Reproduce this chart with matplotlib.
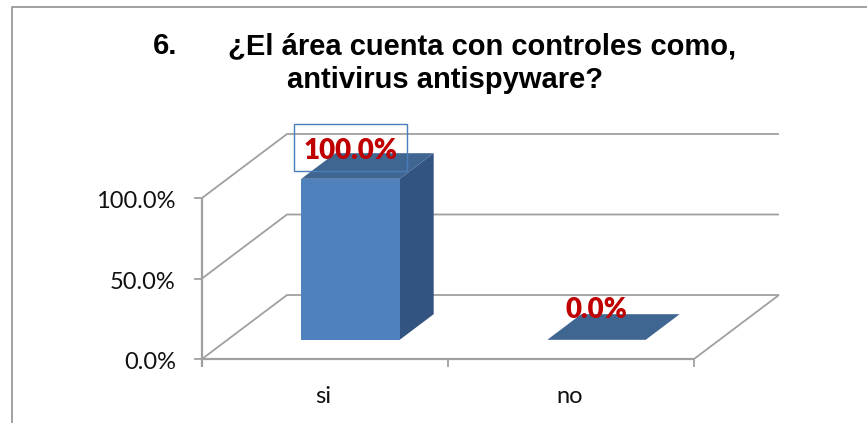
import matplotlib
matplotlib.use("Agg")
import matplotlib.pyplot as plt
from matplotlib.patches import Polygon, Rectangle
from matplotlib.lines import Line2D

categories = ["si", "no"]
values = [1.0, 0.0]
value_labels = ["100.0%", "0.0%"]
y_ticks = [0.0, 0.5, 1.0]
y_tick_labels = ["0.0%", "50.0%", "100.0%"]
title_number = "6."
title_line1 = "¿El área cuenta con controles como,"
title_line2 = "antivirus antispyware?"

W, H = 867, 423
fig = plt.figure(figsize=(W / 100, H / 100), dpi=100, facecolor="white")
# front plane of the 3D box: x 202..694 px, y 359..198 px
ax = fig.add_axes([202 / W, 1 - 359 / H, (694 - 202) / W, (359 - 198) / H])
ax.set_xlim(0, 2)
ax.set_ylim(0, 1)
ax.axis("off")

DX = 85 / 246   # full depth in category units
DY = 64 / 161   # full depth in value units
D0, D1 = 0.30, 0.70  # bar depth range
BW = 0.40       # bar width in category units
GRAY = "#A0A0A0"
FRONT, SIDE, TOP = "#4F81BD", "#335480", "#3F6591"


def P(x, y, d=0.0):
    return (x + d * DX, y + d * DY)


def line(pts, lw=1.3, z=1):
    ax.plot(*zip(*pts), color=GRAY, lw=lw, clip_on=False, zorder=z, solid_capstyle="butt")


for t in y_ticks:
    line([P(0, t), P(0, t, 1), P(2, t, 1)])
    ax.plot([0, -0.03], [t, t], color=GRAY, lw=1.3, clip_on=False, zorder=1)
line([P(2, 0), P(2, 0, 1)])
line([P(0, 0), P(2, 0)], lw=1.6)
line([P(0, 1), P(0, -0.05)], lw=1.6)
for x in [0, 1, 2]:
    line([P(x, 0), P(x, -0.05)], lw=1.3)

for i, (v, lab) in enumerate(zip(values, value_labels)):
    xl, xr = i + 0.5 - BW / 2, i + 0.5 + BW / 2
    if v > 0:
        ax.add_patch(Polygon([P(xr, 0, D0), P(xr, 0, D1), P(xr, v, D1), P(xr, v, D0)],
                             fc=SIDE, ec="none", clip_on=False, zorder=3))
        ax.add_patch(Polygon([P(xl, 0, D0), P(xr, 0, D0), P(xr, v, D0), P(xl, v, D0)],
                             fc=FRONT, ec="none", clip_on=False, zorder=4))
    ax.add_patch(Polygon([P(xl, v, D0), P(xr, v, D0), P(xr, v, D1), P(xl, v, D1)],
                         fc=TOP, ec="none", clip_on=False, zorder=4))
    ax.text(i + 0.5 + D0 * DX, v + 0.29 if v > 0 else 0.305, lab, color="#C00000", fontsize=20,
            fontweight="heavy", family="Lato", ha="center", va="center", zorder=6, clip_on=False)
    ax.text(i + 0.5 - 0.006, -0.236, categories[i], fontsize=17, family="Lato",
            ha="center", va="center", color="#111111")

for t, lab in zip(y_ticks, y_tick_labels):
    ax.text(-0.106, t - 0.022, lab, fontsize=17, family="Lato", ha="right", va="center",
            color="#111111", clip_on=False)

# selection box around the first data label and chart frame
fig.add_artist(Rectangle((294 / W, 1 - 171 / H), 113 / W, 47 / H, transform=fig.transFigure,
                         fc="none", ec="#4A7EBB", lw=1.0, zorder=7))
fig.add_artist(Line2D([11.5 / W, 11.5 / W, 1], [0, 1 - 7.5 / H, 1 - 7.5 / H],
                      transform=fig.transFigure, color="#9A9A9A", lw=1.3))

tk = dict(family="Liberation Sans", fontweight="bold", fontsize=21, color="black", va="center",
          transform=fig.transFigure)
fig.text(153 / W, 1 - 46 / H, title_number, ha="left", **tk)
fig.text(228 / W, 1 - 46 / H, title_line1, ha="left", **tk)
fig.text(287 / W, 1 - 80 / H, title_line2, ha="left", **tk)

fig.savefig("out.png", dpi=100)
